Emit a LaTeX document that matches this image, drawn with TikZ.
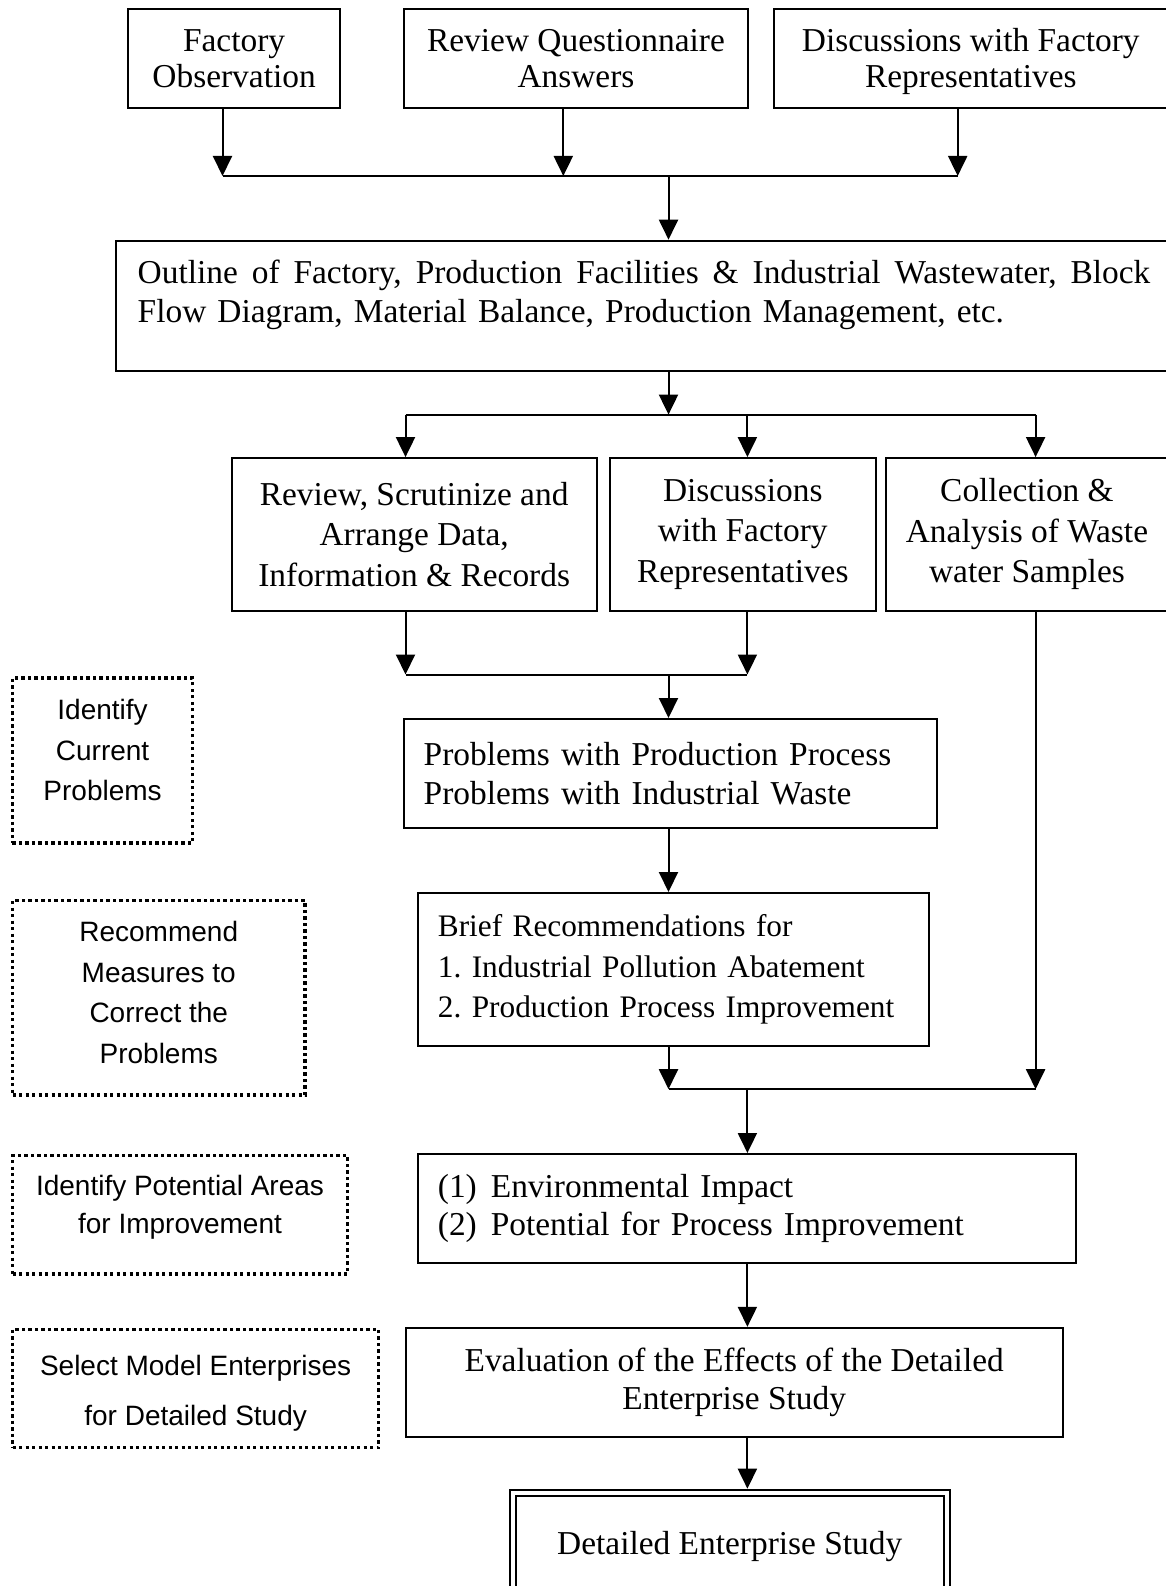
\documentclass[tikz,border=0pt]{standalone}
\usepackage{fontspec}
\setmainfont{Liberation Serif}
\newfontfamily\sansfnt{Liberation Sans}
\usetikzlibrary{arrows.meta}

\begin{document}
\frenchspacing
\begin{tikzpicture}[x=1pt,y=-1pt,
  box/.style={draw,line width=2pt,inner sep=0pt,align=center},
  serifA/.style={font=\fontsize{33.4pt}{36.4pt}\selectfont,text height=62.4pt,text depth=4pt},
  serifB/.style={font=\fontsize{33.4pt}{38.4pt}\selectfont},
  serifC/.style={font=\fontsize{33.4pt}{40.5pt}\selectfont},
  leftbox/.style={box,align=left,inner xsep=20.2pt},
  note/.style={draw,line width=3.3pt,dash pattern=on 3.3pt off 3.2pt,
    inner sep=0pt,align=center,font=\sansfnt\fontsize{28pt}{40.5pt}\selectfont},
  arr/.style={line width=2pt,-{Triangle[length=20pt,width=19pt]}},
  link/.style={line width=2pt}]

\useasboundingbox (0,0) rectangle (1166,1586);
\clip (0,0) rectangle (1166,1586);
\fill[white] (0,0) rectangle (1166,1586);

% first row: sources of information
\node[box,serifA,minimum width=211.4pt,minimum height=99.1pt] (fo) at (234.1,58.65)
  {Factory\\Observation};
\node[box,serifA,minimum width=344.9pt,minimum height=99.1pt] (rq) at (575.95,58.65)
  {Review Questionnaire\\Answers};
\node[box,serifA,minimum width=394.4pt,minimum height=99.1pt] (dfr) at (970.8,58.65)
  {Discussions with Factory\\Representatives};

% outline of the factory
\node[box,minimum width=1051.7pt,minimum height=130.5pt] (outline) at (642.15,305.95) {};
\node[serifB,anchor=north west,inner sep=0pt,text width=1012.5pt,align=left] (outlinetext) at (137.5,260)
  {\makebox[1012.5pt][l]{Outline\hfill of\hfill Factory,\hfill Production\hfill Facilities\hfill \&\hfill Industrial\hfill Wastewater,\hfill Block}\\
   Flow Diagram, Material Balance, Production Management, etc.};

% second row: analysis steps
\node[box,serifC,minimum width=365.1pt,minimum height=152.7pt] (rsa) at (414.15,534.45)
  {Review, Scrutinize and\\Arrange Data,\\Information \& Records};
\node[box,serifC,minimum width=266pt,minimum height=152.7pt] (dfr2) at (742.8,534.45)
  {Discussions\\with Factory\\Representatives};
\node[box,serifC,minimum width=282.1pt,minimum height=152.7pt] (caw) at (1026.95,534.45)
  {Collection \&\\Analysis of Waste\\water Samples};

% problems and recommendations
\node[leftbox,serifB,text width=492.6pt,minimum height=109.3pt] (prob) at (670,773.65)
  {\mbox{Problems with Production Process}\\\mbox{Problems with Industrial Waste}};
\node[leftbox,font=\fontsize{31.3pt}{40.5pt}\selectfont,text width=471.3pt,minimum height=152.7pt] (brief) at (673.55,969.35)
  {\mbox{Brief Recommendations for}\\\mbox{1. Industrial Pollution Abatement}\\\mbox{2. Production Process Improvement}};
\node[leftbox,serifB,text width=617.9pt,minimum height=109pt] (env) at (746.85,1208.5)
  {\mbox{(1)\hspace{14pt}Environmental Impact}\\\mbox{(2)\hspace{14pt}Potential for Process Improvement}};
\node[box,serifB,minimum width=657.4pt,minimum height=109.2pt] (eval) at (734.2,1382.4)
  {Evaluation of the Effects of the Detailed\\Enterprise Study};
\node[box,serifB,double,double distance=4pt,minimum width=433.5pt,minimum height=107pt] (det) at (729.75,1546.2)
  {Detailed Enterprise Study};

% stage notes on the left
\node[note,minimum width=180.3pt,minimum height=165pt] (n1) at (102.6,760.5)
  {Identify\\Current\\Problems\\[-20pt]\mbox{}};
\node[note,minimum width=292.5pt,minimum height=194.5pt] (n2) at (158.75,997.75)
  {Recommend\\Measures to\\Correct the\\Problems\\[-30pt]\mbox{}};
\node[note,font=\sansfnt\fontsize{28pt}{38.4pt}\selectfont,minimum width=335pt,minimum height=118.5pt] (n3) at (180,1214.75)
  {Identify Potential Areas\\for Improvement\\[-18pt]\mbox{}};
\node[note,font=\sansfnt\fontsize{28pt}{50.6pt}\selectfont,minimum width=366.3pt,minimum height=118.5pt] (n4) at (195.65,1388.55)
  {\rule{0pt}{30pt}Select Model Enterprises\\for Detailed Study};

% junction points
\coordinate (t1) at (222.5,176);
\coordinate (t2) at (563.3,176);
\coordinate (t3) at (957.7,176);
\coordinate (tj) at (668.5,176);
\coordinate (m1) at (405.5,414.6);
\coordinate (m2) at (747.4,414.6);
\coordinate (m3) at (1035.6,414.6);
\coordinate (mj) at (668.5,414.6);
\coordinate (l1) at (405.5,674.5);
\coordinate (l2) at (747.4,674.5);
\coordinate (lj) at (668.5,674.5);
\coordinate (b1) at (668.5,1089.2);
\coordinate (b2) at (1035.6,1089.2);
\coordinate (bj) at (747.4,1089.2);

% connectors
\draw[arr] (fo.south -| t1) -- (t1);
\draw[arr] (rq.south -| t2) -- (t2);
\draw[arr] (dfr.south -| t3) -- (t3);
\draw[link] (t1) -- (t3);
\draw[arr] (tj) -- (outline.north -| tj);

\draw[arr] (outline.south -| mj) -- (mj);
\draw[link] (m1) -- (m3);
\draw[arr] (m1) -- (rsa.north -| m1);
\draw[arr] (m2) -- (dfr2.north -| m2);
\draw[arr] (m3) -- (caw.north -| m3);

\draw[arr] (rsa.south -| l1) -- (l1);
\draw[arr] (dfr2.south -| l2) -- (l2);
\draw[link] (l1) -- (l2);
\draw[arr] (lj) -- (prob.north -| lj);

\draw[arr] (prob.south -| lj) -- (brief.north -| lj);

\draw[arr] (brief.south -| b1) -- (b1);
\draw[arr] (caw.south -| b2) -- (b2);
\draw[link] (b1) -- (b2);
\draw[arr] (bj) -- (env.north -| bj);
\draw[arr] (env.south -| bj) -- (eval.north -| bj);
\draw[arr,shorten >=3pt] (eval.south -| bj) -- (det.north -| bj);
\end{tikzpicture}
\end{document}
